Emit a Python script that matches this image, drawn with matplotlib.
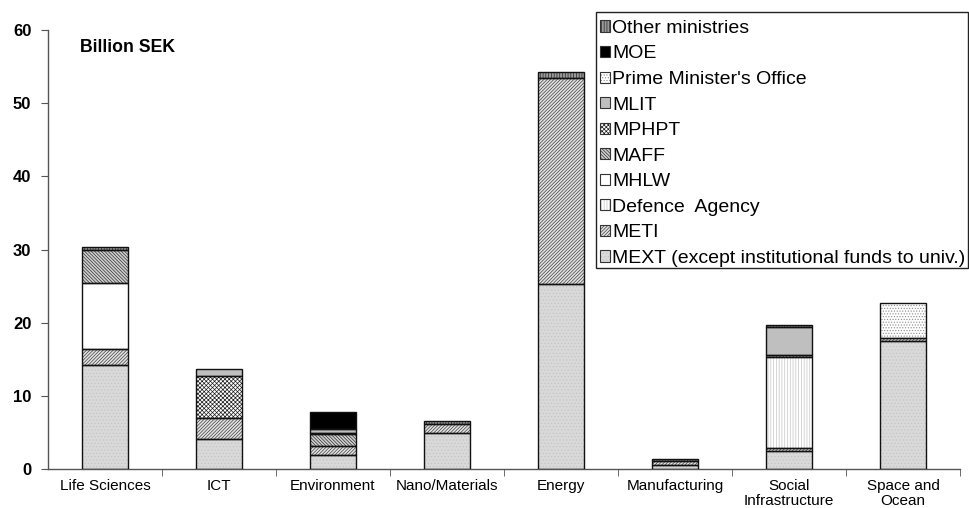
import numpy as np
import matplotlib
matplotlib.use("Agg")
import matplotlib.pyplot as plt
from matplotlib.patches import Patch, Rectangle
from matplotlib.legend_handler import HandlerTuple

plt.rcParams['font.family'] = ['Liberation Sans', 'DejaVu Sans']
plt.rcParams['hatch.linewidth'] = 0.5

categories = ['Life Sciences', 'ICT', 'Environment', 'Nano/Materials', 'Energy',
              'Manufacturing', 'Social\nInfrastructure', 'Space and\nOcean']

# Funding by ministry, billion SEK (stacked bottom to top)
mext = [14.2, 4.05, 1.9, 4.9, 25.3, 0.6, 2.5, 17.5]
meti = [2.15, 2.9, 1.3, 1.3, 28.2, 0.45, 0.33, 0.35]
defence = [0, 0, 0, 0, 0, 0, 12.5, 0]
mhlw = [9.05, 0, 0, 0, 0, 0, 0, 0]
maff = [4.6, 0, 1.6, 0, 0, 0, 0.23, 0]
mphpt = [0, 5.7, 0.1, 0, 0, 0, 0, 0]
mlit = [0, 0.95, 0.6, 0, 0, 0, 3.85, 0]
pmo = [0, 0, 0, 0, 0, 0, 0, 4.9]
moe = [0, 0, 2.3, 0, 0, 0, 0, 0]
other = [0.3, 0, 0, 0.4, 0.8, 0.25, 0.27, 0]

series_names = ['MEXT (except institutional funds to univ.)', 'METI', 'Defence  Agency',
                'MHLW', 'MAFF', 'MPHPT', 'MLIT', "Prime Minister's Office", 'MOE',
                'Other ministries']
series_values = [mext, meti, defence, mhlw, maff, mphpt, mlit, pmo, moe, other]

# face colour, hatch pattern, hatch colour
styles = [
    ('#d9d9d9', '.....', '#c4c4c4'),
    ('#e2e2e2', '//////////', '#404040'),
    ('#ffffff', '||||||', '#c4c4c4'),
    ('#ffffff', '', '#ffffff'),
    ('#cfcfcf', '\\\\\\\\\\\\\\\\\\\\', '#303030'),
    ('#ffffff', 'xxxxxxxx', '#1e1e1e'),
    ('#bfbfbf', '', '#bfbfbf'),
    ('#ffffff', '......', '#8c8c8c'),
    ('#000000', '', '#000000'),
    ('#9a9a9a', '||||||', '#262626'),
]

fig = plt.figure(figsize=(9.7, 5.08), dpi=100)
ax = fig.add_axes([48 / 970, 1 - 469 / 508, 912 / 970, 439 / 508])

x = np.arange(len(categories))
width = 0.4
bottom = np.zeros(len(categories))
handles = []
for name, vals, (face, hatch, hcol) in zip(series_names, series_values, styles):
    vals = np.asarray(vals, dtype=float)
    m = vals > 0
    if m.any():
        ax.bar(x[m], vals[m], width, bottom=bottom[m], color=face, hatch=hatch,
               edgecolor=hcol, linewidth=0, zorder=2)
        ax.bar(x[m], vals[m], width, bottom=bottom[m], fill=False,
               edgecolor='#111111', linewidth=1.0, zorder=3)
    bottom += vals
    h1 = Patch(facecolor=face, hatch=hatch, edgecolor=hcol, linewidth=0)
    h2 = Patch(fill=False, edgecolor='#333333', linewidth=0.8)
    handles.append((h1, h2))

ax.set_xlim(-0.5, len(categories) - 0.5)
ax.set_ylim(0, 60)
ax.set_yticks(np.arange(0, 61, 10))
ax.set_yticklabels([str(v) for v in range(0, 61, 10)], fontweight='bold', fontsize=12)
ax.set_xticks(x)
ax.set_xticklabels(categories, fontsize=11, linespacing=1.1,
                   family=['Liberation Sans Narrow', 'Liberation Sans'])
ax.set_xticks(np.arange(0.5, len(categories), 1), minor=True)
ax.tick_params(axis='x', which='major', length=0, pad=7)
ax.tick_params(axis='x', which='minor', length=5, color='#555555', direction='out')
ax.tick_params(axis='y', length=5, color='#555555', direction='out', pad=7)
for s in ['top', 'right']:
    ax.spines[s].set_visible(False)
for s in ['left', 'bottom']:
    ax.spines[s].set_color('#555555')
    ax.spines[s].set_linewidth(1.0)

ax.text(0.035, 0.96, 'Billion SEK', transform=ax.transAxes, fontsize=12.7,
        fontweight='bold', va='center', ha='left')

# Legend box with a fixed frame in the upper right corner
bx0, by0, bx1, by1 = 596 / 970, 1 - 268 / 508, 968 / 970, 1 - 12 / 508
fig.add_artist(Rectangle((bx0, by0), bx1 - bx0, by1 - by0, transform=fig.transFigure,
                         facecolor='white', edgecolor='none', zorder=4))
leg = fig.legend(handles[::-1], series_names[::-1],
                 handler_map={tuple: HandlerTuple(ndivide=1)},
                 loc='upper left', bbox_to_anchor=(bx0, 1 - 16 / 508),
                 bbox_transform=fig.transFigure, borderaxespad=0,
                 fontsize=14.0, frameon=False,
                 handlelength=0.5, handleheight=0.5, handletextpad=0.12,
                 labelspacing=0.44, borderpad=0.2)
leg.set_zorder(5)
fig.add_artist(Rectangle((bx0, by0), bx1 - bx0, by1 - by0, transform=fig.transFigure,
                         fill=False, edgecolor='#222222', linewidth=1.0, zorder=6))

fig.savefig('out.png', dpi=100)
